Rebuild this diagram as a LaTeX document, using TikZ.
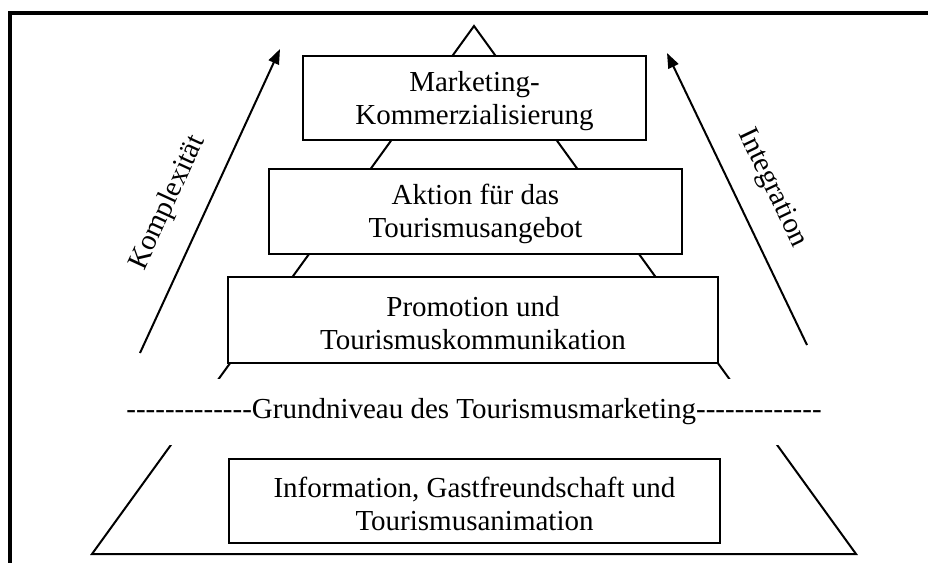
\documentclass[tikz,border=0pt]{standalone}
\usepackage{fontspec}
\setmainfont{Liberation Serif}
\usetikzlibrary{arrows.meta}

\newcommand{\hyrow}[1]{\foreach \n in {1,...,#1}{\mbox{-}}}
\newcommand{\toprule}{\rule{0pt}{26pt}}

\begin{document}
\begin{tikzpicture}[x=1pt, y=-1pt, >={Triangle[length=15pt, width=11pt]}]
	\tikzstyle{level} = [draw=black, line width=2.5pt, fill=white, align=center, inner sep=0pt, font=\fontsize{29}{33}\selectfont]
	\tikzstyle{invis} = [draw=none, fill=white, inner sep=0pt, font=\fontsize{29}{33}\selectfont]
	\tikzstyle{side} = [draw=none, inner sep=0pt, font=\fontsize{29}{33}\selectfont]

	\useasboundingbox (0, 0) rectangle (928, 562);
	\draw[line width=4pt] (10, 13) rectangle (934, 568);

	% pyramid outline, the boxes cover it
	\coordinate (top) at (474, 26);
	\coordinate (bl) at (92, 554);
	\coordinate (br) at (856, 554);
	\draw[line width=2pt] (bl) -- (top) -- (br) -- cycle;

	\node[level, minimum width=343pt, minimum height=84pt] at (474.5, 98) (mk) {\toprule Marketing-\\Kommerzialisierung};
	\node[level, minimum width=413pt, minimum height=85pt] at (475.5, 211.5) (ak) {\toprule Aktion f\"ur das\\Tourismusangebot};
	\node[level, minimum width=490pt, minimum height=86pt] at (473, 320) (pr) {\toprule Promotion und\\Tourismuskommunikation};
	\node[invis, minimum height=66pt] at (474, 412) (gn) {\hyrow{13}Grundniveau des Tourismusmarketing\hyrow{13}};
	\node[level, minimum width=491pt, minimum height=84pt] at (474.5, 501) (inf) {\toprule Information, Gastfreundschaft und\\Tourismusanimation};

	% arrows at the sides
	\coordinate (kt) at (140, 353);
	\coordinate (kh) at (280, 49);
	\coordinate (it) at (807, 345);
	\coordinate (ih) at (667, 53);
	\draw[->, line width=2pt] (kt) -- (kh);
	\draw[->, line width=2pt] (it) -- (ih);
	\node[side, rotate=65.3] at (168, 203) (kx) {Komplexität};
	\node[side, rotate=-64.4] at (772, 188) (ig) {Integration};
\end{tikzpicture}
\end{document}
